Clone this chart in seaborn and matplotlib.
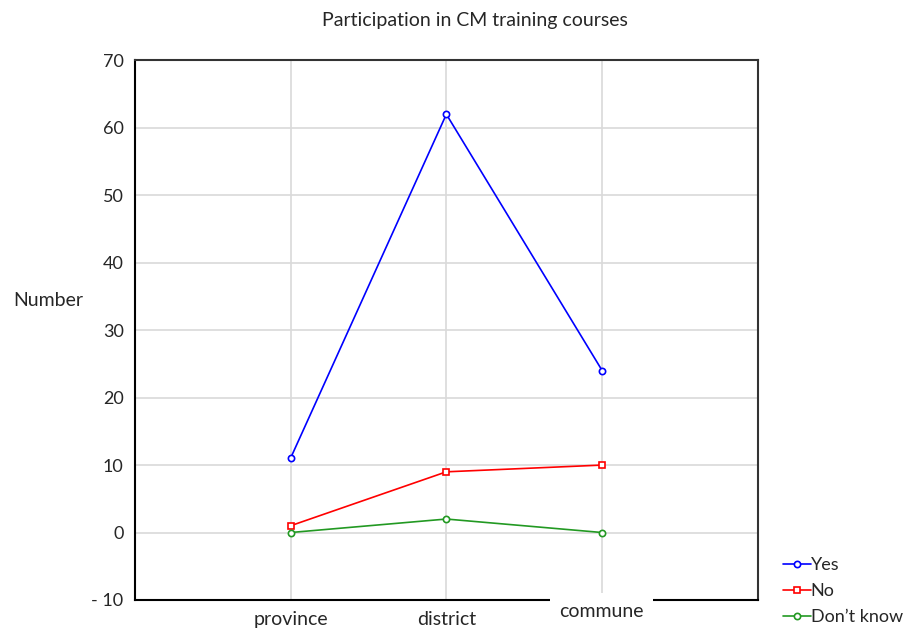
import pandas as pd
import seaborn as sns
import matplotlib.pyplot as plt

# Dados do gráfico
levels = ['province', 'district', 'commune']
answers = ['Yes', 'No', 'Don\u2019t know']
yes_vals = [11, 62, 24]
no_vals = [1, 9, 10]
dk_vals = [0, 2, 0]

df = pd.DataFrame({
    'Level': levels * 3,
    'Pos': [0, 1, 2] * 3,
    'Answer': [answers[0]] * 3 + [answers[1]] * 3 + [answers[2]] * 3,
    'Number': yes_vals + no_vals + dk_vals,
})

sns.set_style('white')
plt.rcParams['font.family'] = ['Lato', 'DejaVu Sans']

fig = plt.figure(figsize=(9.1, 6.28), dpi=100)
ax = fig.add_axes([0.148, 0.0446, 0.685, 0.8594])

cores = {'Yes': '#0000ff', 'No': '#ff0000', 'Don\u2019t know': '#229922'}
sns.lineplot(data=df, x='Pos', y='Number', hue='Answer', style='Answer',
             palette=cores, markers=['o', 's', 'o'], dashes=False,
             markersize=4.5, linewidth=1.2, ax=ax, legend=False)

for ln in ax.lines:
    ln.set_markerfacecolor('white')
    ln.set_markeredgecolor(ln.get_color())
    ln.set_markeredgewidth(1.2)

ax.set_xlim(-1, 3)
ax.set_ylim(-10, 70)
ax.set_xticks([0, 1, 2])
ax.set_xticklabels(['province', 'district', ''], fontsize=14)
ax.set_yticks(range(-10, 71, 10))
ax.set_yticklabels(['- 10'] + [str(v) for v in range(0, 71, 10)], fontsize=13)
ax.tick_params(direction='in', length=4, width=1.2, color='black', pad=8)
ax.grid(True, color='#d9d9d9', linewidth=1.2)
ax.set_axisbelow(True)

for s in ['left', 'bottom']:
    ax.spines[s].set_color('black')
    ax.spines[s].set_linewidth(1.5)
for s in ['right', 'top']:
    ax.spines[s].set_color('#333333')
    ax.spines[s].set_linewidth(1.5)

# rótulo "commune" com caixa branca por cima do eixo
fig.text(0.661, 0.026, 'commune', ha='center', va='center', fontsize=14,
         bbox=dict(facecolor='white', edgecolor='none', pad=7))

ax.set_xlabel('')
ax.set_ylabel('Number', rotation=0, fontsize=14)
ax.yaxis.set_label_coords(-0.139, 0.54)
fig.text(0.522, 0.968, 'Participation in CM training courses', ha='center', va='center', fontsize=14)

handles = ax.lines[:3]
fig.legend(handles, answers, loc='upper left', bbox_to_anchor=(0.853, 0.124),
           frameon=False, fontsize=13, handlelength=1.5, handletextpad=0.0,
           labelspacing=0.55, borderaxespad=0)

plt.savefig('out.png', dpi=100)
